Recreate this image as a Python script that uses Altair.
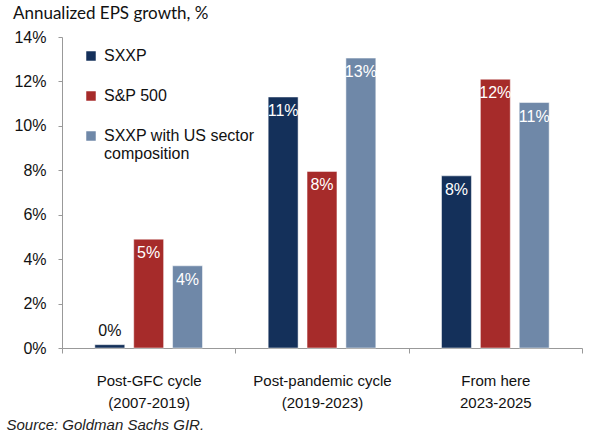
import altair as alt
import pandas as pd

categories = ["Post-GFC cycle (2007-2019)", "Post-pandemic cycle (2019-2023)", "From here 2023-2025"]
series = ["SXXP", "S&P 500", "SXXP with US sector composition"]
sxxp = [0.15, 11.3, 7.75]
sp500 = [4.9, 7.95, 12.1]
sxxp_us = [3.7, 13.05, 11.05]
colors = ["#14305A", "#A62B2A", "#6F88A8"]

rows = []
for i, c in enumerate(categories):
    for s, vals in zip(series, [sxxp, sp500, sxxp_us]):
        rows.append({"cat": c, "series": s, "value": vals[i]})
df = pd.DataFrame(rows)

FONT = "Liberation Sans"

x = alt.X("cat:N", sort=categories,
          scale=alt.Scale(paddingInner=0, paddingOuter=0),
          axis=alt.Axis(title="Source: Goldman Sachs GIR.", titleFont=FONT, titleFontSize=15,
                        titleFontStyle="italic", titleFontWeight="normal", titleColor="#222",
                        titleAnchor="start", titleAlign="left", titleX=-56, titleY=69,
                        labelExpr="datum.label == 'Post-GFC cycle (2007-2019)' ? ['Post-GFC cycle', '(2007-2019)'] : datum.label == 'Post-pandemic cycle (2019-2023)' ? ['Post-pandemic cycle', '(2019-2023)'] : datum.label == 'From here 2023-2025' ? ['From here', '2023-2025'] : ''",
                        labelAngle=0, labelFont=FONT, labelFontSize=15, labelColor="#111",
                        labelPadding=20, labelLineHeight=22,
                        tickBand="extent", tickSize=5, tickColor="#999", domainColor="#999"))
xo = alt.XOffset("series:N", sort=series, scale=alt.Scale(paddingInner=0.23, paddingOuter=0.845))
y = alt.Y("value:Q", scale=alt.Scale(domain=[0, 14], nice=False),
          axis=alt.Axis(title=None, values=list(range(0, 15, 2)), labelExpr="datum.value + '%'",
                        grid=False, labelFont=FONT, labelFontSize=16, labelColor="#111",
                        tickSize=4, tickColor="#999", domainColor="#999", labelPadding=12))

base = alt.Chart(df).encode(x=x, xOffset=xo)

bars = base.mark_bar(stroke="white", strokeWidth=0.5).encode(
    y=y,
    color=alt.Color("series:N", sort=series, scale=alt.Scale(domain=series, range=colors),
                    legend=alt.Legend(title=None, orient="none", legendX=21, legendY=11,
                                      symbolType="square", symbolSize=90, symbolStrokeWidth=0,
                                      labelFont=FONT, labelFontSize=16, labelColor="#111",
                                      rowPadding=24, labelLimit=300, labelOffset=5,
                                      labelExpr="datum.label == 'SXXP with US sector composition' ? ['SXXP with US sector', 'composition'] : datum.label"))
)

lab = base.transform_calculate(txt="format(datum.value, '.0f') + '%'")
inside = lab.transform_filter("datum.value >= 1").mark_text(
    baseline="top", dy=6, color="white", font=FONT, fontSize=16
).encode(y="value:Q", text="txt:N")
above = lab.transform_filter("datum.value < 1").mark_text(
    baseline="bottom", dy=-6, color="#111", font=FONT, fontSize=16
).encode(y="value:Q", text="txt:N")

chart = (bars + inside + above).properties(
    width=520, height=311,
    title=alt.TitleParams("Annualized EPS growth, %", anchor="start", frame="group", dx=-49, offset=6,
                          font="Lato", fontSize=17, fontWeight="normal", color="#111"),
    autosize=alt.AutoSizeParams(type="none"),
    padding={"left": 62, "top": 37, "right": 20, "bottom": 99},
).configure_view(stroke=None)

chart.save("out.html", embed_options={"renderer": "svg", "actions": False})
